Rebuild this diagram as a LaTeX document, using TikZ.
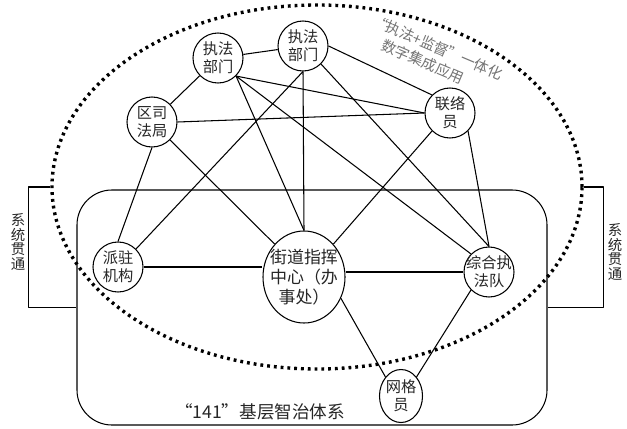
\documentclass[tikz,border=0pt]{standalone}
\usepackage{fontspec}
\setmainfont{Noto Sans CJK SC}
\usetikzlibrary{shapes.geometric}

\begin{document}
\begin{tikzpicture}[x=0.03cm, y=-0.03cm, line join=round,
  unit/.style={draw, ellipse, fill=white, line width=0.9pt, inner sep=0pt, minimum width=1.5cm, minimum height=1.5cm},
  word/.style={align=center, inner sep=0pt, font=\fontsize{13}{15.5}\selectfont, text=black!85},
  link/.style={line width=0.9pt}]
\useasboundingbox (0,0) rectangle (627,429);
% outer frames
\node[draw, ellipse, dash pattern=on 2.4pt off 3.4pt, line width=2.9pt, minimum width=15.9cm, minimum height=10.92cm, inner sep=0pt] (ring) at (317,187) {};
\node[draw, rounded corners=1.05cm, line width=0.9pt, minimum width=14.1cm, minimum height=7.05cm, inner sep=0pt] (sys) at (312,307.5) {};
\draw[link] (ring.west) -- ++(-22,0) |- (sys.west);
\draw[link] (ring.east) -- ++(20,0) |- (sys.east);
\node[word, font=\fontsize{12.3}{12.8}\selectfont] (lsys) at (18,242) {系\\统\\贯\\通};
\node[word, font=\fontsize{12.3}{12.8}\selectfont] (rsys) at (615,252) {系\\统\\贯\\通};
\node[word, font=\fontsize{12.5}{16}\selectfont, text=black!55, rotate=-23] (ringtitle) at (434,56) {“执法+监督”一体化\\数字集成应用\hspace*{1.1em}};
\node[word, font=\fontsize{15}{18}\selectfont] (systitle) at (260,412) {“141”基层智治体系};
% units
\node[unit, label={[word]center:{执法\\部门}}] (A) at (218,58) {};
\node[unit, label={[word]center:{执法\\部门}}] (B) at (303,46) {};
\node[unit, label={[word]center:{区司\\法局}}] (Q) at (152,122) {};
\node[unit, label={[word]center:{联络\\员}}] (L) at (450,113) {};
\node[unit, label={[word]center:{派驻\\机构}}] (P) at (118,267) {};
\node[unit, minimum width=2.46cm, minimum height=2.76cm, label={[word, font=\fontsize{14.5}{17}\selectfont]center:{街道指挥\\中心（办\\事处）}}] (C) at (304,277) {};
\node[unit, label={[word]center:{综合执\\法队}}] (Z) at (489,272) {};
\node[unit, minimum width=1.29cm, minimum height=1.59cm, label={[word]center:{网格\\员}}] (W) at (401,396) {};
% links
\draw[link] (A) -- (B);
\draw[link] (A) -- (Q);
\draw[link] (A.south east) -- (L.west);
\draw[link] (A.south east) -- (C.north);
\draw[link] (A.south east) -- (Z.north west);
\draw[link] (B.east) -- (L.north west);
\draw[link] (B.south) -- (P.north east);
\draw[link] (B.south) -- (C.north);
\draw[link] (B.south east) -- (Z.north);
\draw[link] (Q.east) -- (L.west);
\draw[link] (Q.south) -- (P.north);
\draw[link] (Q.south east) -- (C.north west);
\draw[link] (L.south west) -- (C.north east);
\draw[link] (L.south east) -- (Z.north);
\draw[link] (P.east) -- (P.east -| C.west);
\draw[link] (Z.west -| C.east) -- (Z.west);
\draw[link] (C.-30) -- (W.north west);
\draw[link] (Z.south west) -- (W.north east);
\end{tikzpicture}
\end{document}
